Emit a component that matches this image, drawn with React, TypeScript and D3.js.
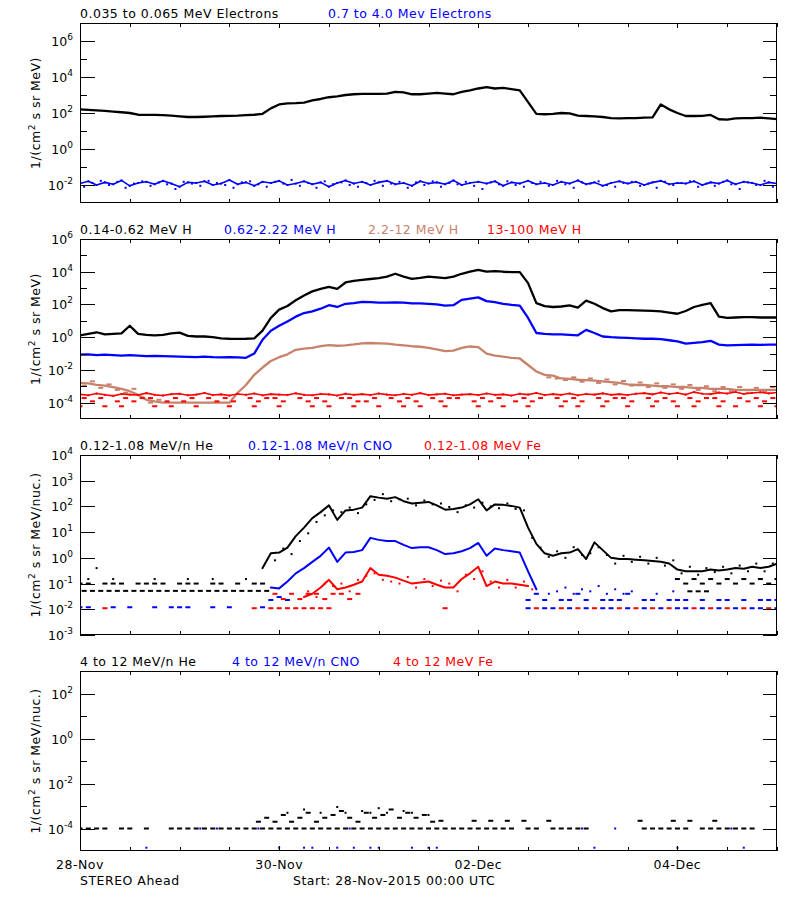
import React from "react";
import * as d3 from "d3";

type Val = number | null;
const _ = null;

// ---------------- time axis ----------------
const sampleStepHours = 2;
const totalHours = 168;
const xTickHours = [0, 12, 24, 36, 48, 60, 72, 84, 96, 108, 120, 132, 144, 156, 168];
const dateLabels = ["28-Nov", "30-Nov", "02-Dec", "04-Dec"];
const dateLabelHours = [0, 48, 96, 144];

// ---------------- panel 1: electrons ----------------
const elecLow: Val[] = [
  160, 150, 140, 130, 120, 110, 100, 80, 78, 78,
  76, 72, 65, 60, 60, 62, 65, 68, 70, 72,
  76, 80, 90, 180, 300, 340, 350, 380, 500, 600,
  750, 850, 1000, 1100, 1150, 1150, 1150, 1200, 1500, 1400,
  1100, 1100, 1200, 1300, 1200, 1100, 1500, 1800, 2300, 2700,
  2300, 2500, 2100, 1800, 400, 90, 85, 90, 100, 95,
  72, 68, 65, 60, 52, 50, 52, 52, 55, 57,
  300, 160, 100, 68, 68, 70, 78, 45, 43, 50,
  52, 52, 55, 50, 46,
];
const elecHigh: Val[] = [
  0.012, 0.016, 0.010, 0.014, 0.011, 0.018, 0.009, 0.013, 0.015, 0.011, 0.017, 0.012, 0.008, 0.014, 0.013, 0.016, 0.010,
  0.012, 0.019, 0.011, 0.014, 0.009, 0.015, 0.013, 0.017, 0.010, 0.012, 0.016, 0.011, 0.014, 0.008, 0.013, 0.018, 0.012,
  0.015, 0.010, 0.014, 0.017, 0.011, 0.013, 0.009, 0.016, 0.012, 0.014, 0.011, 0.018, 0.010, 0.013, 0.015, 0.012, 0.016,
  0.009, 0.014, 0.012, 0.017, 0.011, 0.013, 0.010, 0.015, 0.012, 0.018, 0.011, 0.014, 0.009, 0.013, 0.016, 0.012, 0.015,
  0.010, 0.014, 0.017, 0.011, 0.013, 0.012, 0.016, 0.010, 0.014, 0.012, 0.018, 0.011, 0.015, 0.013, 0.010, 0.014, 0.012,
];
const elecHighB: Val[] = [
  0.008, 0.013, 0.017, 0.010, 0.015, 0.007, 0.012, 0.016, 0.009, 0.014, 0.011, 0.006, 0.015, 0.012, 0.009, 0.017, 0.013,
  0.010, 0.007, 0.014, 0.016, 0.011, 0.008, 0.015, 0.012, 0.019, 0.009, 0.013, 0.007, 0.016, 0.011, 0.014, 0.010, 0.008,
  0.013, 0.017, 0.009, 0.012, 0.015, 0.007, 0.014, 0.010, 0.016, 0.008, 0.013, 0.011, 0.015, 0.009, 0.006, 0.014, 0.011,
  0.016, 0.010, 0.008, 0.013, 0.015, 0.009, 0.017, 0.011, 0.007, 0.014, 0.012, 0.016, 0.010, 0.008, 0.013, 0.015, 0.009,
  0.012, 0.007, 0.015, 0.010, 0.013, 0.016, 0.008, 0.012, 0.009, 0.015, 0.011, 0.006, 0.014, 0.010, 0.017, 0.008, 0.013,
];

// ---------------- panel 2: protons ----------------
const protonLow: Val[] = [
  1.3, 1.6, 2.0, 1.5, 1.6, 1.7, 5.0, 1.6, 1.4, 1.3,
  1.4, 1.7, 1.9, 1.2, 1.1, 1.1, 1.0, 0.85, 0.8, 0.78,
  0.8, 0.85, 2.5, 15, 48, 80, 180, 350, 630, 900,
  1200, 900, 2200, 2800, 3200, 3600, 4100, 5000, 7500, 5000,
  3700, 4200, 5000, 4500, 4100, 5000, 7500, 10000, 13000, 10000,
  11000, 10000, 9500, 9500, 2000, 120, 80, 70, 75, 87,
  65, 170, 110, 60, 38, 45, 45, 44, 42, 40,
  38, 32, 27, 40, 70, 95, 120, 18, 15, 16,
  17, 17, 16, 16, 16,
];
const protonMid: Val[] = [
  0.085, 0.09, 0.08, 0.085, 0.08, 0.075, 0.08, 0.075, 0.07, 0.072,
  0.07, 0.068, 0.065, 0.062, 0.06, 0.065, 0.06, 0.058, 0.06, 0.058,
  0.055, 0.1, 0.7, 2.5, 5, 9, 18, 30, 38, 55,
  90, 70, 110, 120, 145, 140, 130, 130, 135, 130,
  115, 115, 110, 100, 85, 90, 190, 230, 270, 160,
  140, 110, 95, 85, 15, 1.8, 1.6, 1.5, 1.5, 1.4,
  1.3, 2.8, 1.8, 1.1, 1.0, 0.95, 0.9, 0.85, 0.8, 0.8,
  0.75, 0.65, 0.55, 0.4, 0.45, 0.5, 0.6, 0.35, 0.32, 0.33,
  0.34, 0.35, 0.34, 0.35, 0.35,
];
const protonHigh: Val[] = [
  0.0016, 0.0015, 0.0012, 0.0011, 0.0009, 0.0007, 0.0005, 0.0003, 0.00015, 0.00012,
  0.0001, 0.0001, 0.0001, 0.0001, 0.0001, 0.0001, 0.0001, 0.0001, 0.0001, 0.0004,
  0.0012, 0.005, 0.014, 0.035, 0.06, 0.09, 0.17, 0.2, 0.22, 0.28,
  0.33, 0.3, 0.32, 0.36, 0.42, 0.44, 0.42, 0.4, 0.35, 0.32,
  0.28, 0.26, 0.22, 0.18, 0.14, 0.15, 0.22, 0.27, 0.25, 0.1,
  0.075, 0.065, 0.055, 0.05, 0.02, 0.008, 0.005, 0.0045, 0.003, 0.0028,
  0.0025, 0.0024, 0.0022, 0.002, 0.0018, 0.0016, 0.0013, 0.0012, 0.0012, 0.0011,
  0.001, 0.001, 0.0009, 0.0009, 0.0008, 0.0008, 0.0007, 0.0007, 0.0007, 0.0006,
  0.0006, 0.0006, 0.0006, 0.0006, 0.0006,
];
const protonHighScatter: Val[] = [
  0.0011, 0.002, 0.0008, 0.0013, 0.0006, 0.0004, 0.0007, 0.0002, 0.0001, 0.00015,
  _, _, _, _, _, _, _, _, _, _,
  _, _, _, _, _, _, _, _, _, _,
  _, _, _, _, _, _, _, _, _, _,
  _, _, _, _, _, _, _, _, _, _,
  _, _, _, _, _, _, 0.0035, 0.003, 0.0024, 0.0035,
  0.0019, 0.003, 0.0016, 0.0026, 0.0013, 0.0021, 0.0011, 0.0017, 0.0009, 0.0015,
  0.0008, 0.0013, 0.0007, 0.0012, 0.0006, 0.001, 0.0005, 0.0009, 0.0005, 0.0009,
  0.0004, 0.0008, 0.0005, 0.0009, 0.0004,
];
const protonTop: Val[] = [
  3.2e-4, 2.8e-4, 3.6e-4, 3.0e-4, 2.6e-4, 3.4e-4, 3.1e-4, 2.9e-4, 3.8e-4, 3.0e-4, 2.7e-4, 3.3e-4, 3.5e-4, 2.8e-4, 3.1e-4, 3.9e-4, 2.9e-4,
  3.2e-4, 2.7e-4, 3.4e-4, 3.0e-4, 3.6e-4, 2.8e-4, 3.3e-4, 3.1e-4, 2.9e-4, 3.7e-4, 3.0e-4, 2.8e-4, 3.4e-4, 3.2e-4, 2.7e-4, 3.5e-4, 3.0e-4,
  3.3e-4, 2.9e-4, 3.6e-4, 3.1e-4, 2.8e-4, 3.4e-4, 3.0e-4, 3.8e-4, 2.9e-4, 3.2e-4, 3.5e-4, 2.8e-4, 3.1e-4, 3.3e-4, 2.9e-4, 3.6e-4, 3.0e-4,
  3.2e-4, 2.7e-4, 3.5e-4, 3.1e-4, 3.9e-4, 2.9e-4, 3.3e-4, 3.0e-4, 3.6e-4, 2.8e-4, 3.4e-4, 3.1e-4, 3.7e-4, 3.0e-4, 3.3e-4, 2.9e-4, 3.5e-4,
  3.8e-4, 3.2e-4, 4.2e-4, 3.4e-4, 3.9e-4, 3.1e-4, 4.4e-4, 3.5e-4, 3.3e-4, 4.1e-4, 3.6e-4, 4.5e-4, 3.4e-4, 3.9e-4, 4.3e-4, 3.7e-4, 4.2e-4,
];
const protonTopQ1: Val[] = [
  1.9e-4, 1.2e-4, 1.9e-4, _, 1.2e-4, 1.9e-4, 1.2e-4, 1.9e-4, 1.9e-4, _, 1.2e-4, 1.9e-4, 1.2e-4, 1.9e-4, _, 1.9e-4, 1.2e-4,
  1.9e-4, 1.2e-4, _, 1.9e-4, 1.2e-4, 1.9e-4, 1.9e-4, 1.2e-4, _, 1.9e-4, 1.2e-4, 1.9e-4, 1.2e-4, _, 1.9e-4, 1.9e-4, 1.2e-4,
  1.2e-4, 1.9e-4, _, 1.9e-4, 1.2e-4, 1.9e-4, 1.2e-4, _, 1.9e-4, 1.2e-4, 1.9e-4, 1.9e-4, _, 1.2e-4, 1.9e-4, 1.2e-4, 1.9e-4,
  _, 1.2e-4, 1.9e-4, 1.2e-4, 1.9e-4, _, 1.9e-4, 1.2e-4, 1.9e-4, 1.2e-4, _, 1.9e-4, 1.2e-4, 1.9e-4, 1.9e-4, 1.2e-4, _,
  1.9e-4, 1.2e-4, 1.9e-4, 1.2e-4, _, 1.9e-4, 1.2e-4, 1.9e-4, 1.9e-4, 1.2e-4, _, 1.9e-4, 1.2e-4, 1.9e-4, 1.2e-4, 1.9e-4, 1.2e-4,
];
const protonTopQ2: Val[] = [
  6e-5, _, _, 6e-5, _, 6e-5, _, _, _, 6e-5, _, 6e-5, _, _, 6e-5, _, _,
  _, 6e-5, _, _, 6e-5, _, _, 6e-5, _, _, _, 6e-5, _, 6e-5, _, _, 6e-5,
  _, _, 6e-5, _, _, 6e-5, _, 6e-5, _, _, 6e-5, _, _, _, 6e-5, _, _,
  6e-5, _, _, 6e-5, _, _, _, 6e-5, _, 6e-5, _, _, 6e-5, _, _, 6e-5, _,
  _, 6e-5, _, _, 6e-5, _, 6e-5, _, _, 6e-5, _, 6e-5, _, _, 6e-5, _, 6e-5,
];

// ---------------- panel 3: 0.12-1.08 MeV/n ions ----------------
const heLowMain: Val[] = [
  _, _, _, _, _, _, _, _, _, _, _, _, _, _, _, _, _, _, _, _, _, _, 0.4,
  1.5, 1.6, 2.5, 7, 15, 35, 60, 110, 30, 70,
  75, 90, 250, 220, 200, 230, 160, 130, 140, 150,
  110, 75, 80, 90, 120, 190, 70, 120, 115, 105,
  90, 15, 3.5, 1.5, 1.2, 1.5, 1.6, 2.2, 0.9, 4,
  2.0, 1.0, 0.9, 0.9, 0.85, 0.8, 0.75, 0.7, 0.6, 0.35,
  0.3, 0.3, 0.3, 0.35, 0.32, 0.35, 0.4, 0.38, 0.45, 0.4,
  0.45, 0.6,
];
const heLowScatter: Val[] = [
  _, _, _, _, _, _, _, _, _, _, _, _, _, _, _, _, _, _, _, _, _, _, _,
  0.8, 2.3, 1.4, 4.5, 9, 25, 45, 70, 60, 90,
  55, 120, 180, 300, 160, 190, 200, 110, 170, 120,
  130, 95, 60, 110, 90, 140, 100, 85, 130, 80,
  70, 6, 2.5, 1.1, 1.8, 1.0, 2.6, 1.3, 1.5, 2.6,
  1.3, 0.6, 1.2, 0.7, 1.1, 0.6, 1.0, 0.5, 0.8, 0.25,
  0.45, 0.22, 0.4, 0.28, 0.45, 0.25, 0.5, 0.3, 0.6, 0.3,
  0.6, 0.45,
];
const heLowQ1: Val[] = [
  0.1, 0.1, _, 0.1, 0.1, 0.1, _, 0.1, 0.1, 0.1, 0.1, _, 0.1, 0.1, 0.1, _, 0.1, 0.1, _, 0.1, _, 0.1, 0.1,
  _, _, _, _, _, _, _, _, _, _, _, _, _, _, _, _, _, _, _, _, _, _, _, _, _,
  _, _, _, _, _, _, _, _, _, _, _, _, _, _, _, _, _, _, _, _, _, _, _, _,
  0.15, 0.1, 0.15, 0.1, 0.15, 0.1, 0.15, 0.1, 0.15, 0.1, 0.15, 0.1, 0.15,
];
const heLowQ2: Val[] = [
  0.052, 0.052, 0.052, 0.052, 0.052, 0.052, 0.052, 0.052, 0.052, 0.052, 0.052, 0.052,
  0.052, 0.052, 0.052, 0.052, 0.052, 0.052, 0.052, 0.052, 0.052, 0.052, 0.052,
  _, _, _, _, _, _, _, _, _, _, _, _, _, _, _, _, _, _, _, _, _, _, _, _, _,
  _, _, _, _, _, _, _, _, _, _, _, _, _, _, _, _, _, _, _, _, _, _, _, _,
  _, 0.05, 0.05, 0.05, _, _, _, _, _, _, _, _, _,
];
const heLowQ3: Val[] = [
  _, 0.15, 0.4, _, 0.15, _, _, _, _, 0.15, _, _, _, 0.15, _, _, 0.15, _, _, _, 0.15, _, _,
];
const cnoLowMain: Val[] = [
  _, _, _, _, _, _, _, _, _, _, _, _, _, _, _, _, _, _, _, _, _, _, _,
  0.07, 0.065, 0.12, 0.25, 0.4, 0.7, 1.2, 2.5, 0.7, 1.6,
  1.7, 2.0, 6, 5, 4.5, 4.5, 3.2, 2.4, 2.6, 2.6,
  2.0, 1.4, 1.5, 1.8, 2.4, 3.8, 1.2, 2.3, 2.0, 1.8,
  1.6, 0.3, 0.06,
];
const cnoLowQ1: Val[] = [
  _, _, _, _, _, _, _, _, _, _, _, _, _, _, _, _, _, _, _, _, _, _, _,
  0.023, 0.03, 0.023, _,
  _, _, _, _, _, _, _, _, _, _, _, _, _, _, _, _, _, _, _, _, _, _, _, _, _, _, _,
  0.023, 0.04, 0.023, _, 0.023, 0.023, 0.04, 0.023, _, 0.023, 0.023, 0.023, 0.04, _, 0.023, 0.023,
  _, 0.023, 0.023, 0.023, _, 0.023, _, 0.023, 0.023, _, 0.023, _, 0.023, 0.023, 0.023,
];
const cnoLowQ2: Val[] = [
  0.012, 0.012, _, _, 0.012, _, 0.012, _, _, 0.012, _, 0.012, 0.012, 0.012, _, _, 0.012, _, 0.012, _, _, _, 0.012,
  _, _, _, _, _, _, _, _, _, _, _, _, _, _, _, _, _, _, _, _, _, _, _, _, _, _, _, _, _, _, _,
  0.011, _, 0.011, 0.011, _, 0.011, _, 0.011, _, 0.011, 0.011, _, 0.011, _, 0.011, _,
  0.011, _, 0.011, 0.011, _, 0.011, _, 0.011, _, 0.011, _, 0.011, 0.011, _, 0.011,
];
const cnoLowScatter: Val[] = [
  _, _, _, _, _, _, _, _, _, _, _, _, _, _, _, _, _, _, _, _, _, _, _, _, _, _, _, _, _, _,
  _, _, _, _, _, _, _, _, _, _, _, _, _, _, _, _, _, _, _, _, _, _, _, _, _, _,
  0.04, 0.05, 0.07, 0.04, 0.06, 0.05, 0.08, 0.04, 0.06, 0.04, 0.05, _, _, 0.04, _, 0.05,
];
const feLowMain: Val[] = [
  _, _, _, _, _, _, _, _, _, _, _, _, _, _, _, _, _, _, _, _, _, _, _, _, _, _, _,
  0.03, 0.04, 0.07, 0.14, 0.06, 0.07, 0.09, 0.12, 0.4, 0.22,
  0.2, 0.17, 0.13, 0.1, 0.11, 0.12, 0.09, 0.07, 0.07, 0.15,
  0.25, 0.45, 0.08, 0.12, 0.1, 0.1, 0.09, 0.08,
];
const feLowScatter: Val[] = [
  _, _, _, _, _, _, _, _, _, _, _, _, _, _, _, _, _, _, _, _, _, _, _, _, _, _, _,
  0.05, 0.03, 0.1, 0.08, 0.1, 0.05, 0.14, 0.2, 0.25, 0.14,
  0.12, 0.1, 0.18, 0.07, 0.15, 0.08, 0.13, 0.1, 0.05, 0.22,
  0.15, 0.3, 0.12, 0.07, 0.14, 0.07, 0.12, 0.06,
];
const feLowQ1: Val[] = [
  _, _, _, 0.011, _, _, _, _, _, _, _, _, _, _, _, _, _, _, _, _, _, 0.011, _,
  0.011, 0.011, 0.011, 0.011, 0.011, 0.011, 0.011, 0.011, _,
  _, _, _, _, _, _, _, _, _, _, _, _, 0.011, _, _, _, _, _, _, _, _, _,
  _, 0.011, _, _, 0.011, _, 0.011, _, 0.011, _, _, 0.011, _, 0.011, _, 0.011,
  _, 0.011, _, _, 0.011, _, 0.011, _, 0.011, _, 0.011, _, _, 0.011, _,
];
const feLowQ2: Val[] = [
  _, _, _, _, _, _, _, _, _, _, _, _, _, _, _, _, _, _, _, _, _, _, _,
  0.04, 0.025, 0.04, 0.025, 0.04, 0.04, 0.025, 0.04, 0.04, 0.025, 0.04,
];

// ---------------- panel 4: 4-12 MeV/n ions ----------------
const heHigh: Val[] = [
  1e-4, 1e-4, 1e-4, 1e-4, _, 1e-4, 1e-4, _, 1e-4, _, _, 1e-4, 1e-4,
  1e-4, 1e-4, 1e-4, 1e-4, 1e-4, 1e-4,
  1e-4, 1e-4, 1e-4, 1e-4, 1e-4, 1e-4, 1e-4, 1e-4, 1e-4, 1e-4,
  1e-4, 1e-4, 1e-4, 1e-4, 1e-4, 1e-4, 1e-4, 1e-4, 1e-4, 1e-4,
  1e-4, 1e-4, 1e-4, 1e-4, 1e-4, 1e-4, 1e-4, 1e-4, 1e-4, 1e-4,
  1e-4, 1e-4, 1e-4, 1e-4, _, 1e-4, 1e-4, _, 1e-4, 1e-4, 1e-4, 1e-4, 1e-4,
  _, _, _, _, _, _, 1e-4, 1e-4, 1e-4, 1e-4, 1e-4, 1e-4, _,
  1e-4, 1e-4, 1e-4, 1e-4, 1e-4, 1e-4, 1e-4, _, _, _,
];
const heHighUpper: Val[] = [
  _, _, _, _, _, _, _, _, _, _, _, _, _, _, _, _, _, _, _, _, _,
  2e-4, 3e-4, 2e-4, 4e-4, 2e-4, 3e-4, 5e-4, 2e-4, 3e-4, 4e-4, 6e-4,
  3e-4, 2e-4, 5e-4, 3e-4, 4e-4, 7e-4, 3e-4, 5e-4, 3e-4, 4e-4, 2e-4,
  2.2e-4, _, _, _, 2.2e-4, _, 2.2e-4, _, 2.2e-4, _, 2.2e-4, _, _, 2.2e-4,
  _, _, _, _, _, _, _, _, _, _, 2.2e-4, _, _, _, 2.2e-4, _, 2.2e-4, _, _, 2.2e-4,
];
const heHighTop: Val[] = [
  _, _, _, _, _, _, _, _, _, _, _, _, _, _, _, _, _, _, _, _, _, _, _,
  _, _, 5e-4, _, 7e-4, _, 5e-4, _, 9e-4, 5e-4, _, 6e-4, 5e-4, 8e-4, 5e-4, _, 6e-4, 5e-4, _, 4e-4,
];
const cnoHighLow: Val[] = [
  _, _, _, _, _, _, _, _, 1.4e-5, _, _, _, _, _, _, _, _, _, _, _, _, _, _, _, 1.4e-5, _, _,
  1.4e-5, 1.4e-5, _, _, 1.4e-5, _, 1.4e-5, _, 1.4e-5, 1.4e-5, _, _, _, 1.4e-5, _, 1.4e-5, 1.4e-5,
  _, _, _, _, _, _, _, _, _, _, _, _, _, _, _, _, _, _, 1.4e-5, _, _, _, _, _, _, _, _, _,
  1.4e-5, _, _, _, _, _, _, _, 1.4e-5, _, _, _, _,
];
const cnoHighMid: Val[] = [
  _, _, _, _, _, _, _, _, _, _, _, _, _, _, 1e-4, _, 1e-4, _, _, _, _, 1e-4, _, _, _, _, _, _, _, _, _, _,
  1e-4, _, _, _, _, _, _, _, _, _, _, _, _, _, _, _, _, _, _, _, _, _, _, _, _, _, _, _,
  1e-4, _, _, _, 1e-4, _, _, _, _, _, _, _, _, _, _, _, _, _, 1e-4,
];

// ---------------- styles / layout ----------------
const BLACK = "#000000";
const BLUE = "#0000ff";
const BROWN = "#c8826b";
const RED = "#ff0000";
const FONT = "'DejaVu Sans', Verdana, sans-serif";
const X0 = 80;
const X1 = 777;
const PANEL_H = 180;

const xScale = d3.scaleLinear().domain([0, totalHours]).range([X0, X1]);

type Kind = "line" | "jag" | "dash" | "dot";
type SeriesDef = { values: Val[]; color: string; kind: Kind; offset?: number; width?: number };
type TitleDef = { text: string; color: string; x: number };
type PanelDef = {
  top: number;
  domain: [number, number];
  major: number[];
  minor: number[];
  unit: string;
  titles: TitleDef[];
  series: SeriesDef[];
};

const panels: PanelDef[] = [
  {
    top: 23,
    domain: [1e-3, 1e7],
    major: [6, 4, 2, 0, -2],
    minor: [5, 3, 1, -1],
    unit: "MeV)",
    titles: [
      { text: "0.035 to 0.065 MeV Electrons", color: BLACK, x: 80 },
      { text: "0.7 to 4.0 Mev Electrons", color: BLUE, x: 328 },
    ],
    series: [
      { values: elecHigh, color: BLUE, kind: "jag" },
      { values: elecHighB, color: BLUE, kind: "dot", offset: 1 },
      { values: elecLow, color: BLACK, kind: "line" },
    ],
  },
  {
    top: 239,
    domain: [1e-5, 1e6],
    major: [6, 4, 2, 0, -2, -4],
    minor: [5, 3, 1, -1, -3],
    unit: "MeV)",
    titles: [
      { text: "0.14-0.62 MeV H", color: BLACK, x: 80 },
      { text: "0.62-2.22 MeV H", color: BLUE, x: 224 },
      { text: "2.2-12 MeV H", color: BROWN, x: 368 },
      { text: "13-100 MeV H", color: RED, x: 487 },
    ],
    series: [
      { values: protonLow, color: BLACK, kind: "line" },
      { values: protonMid, color: BLUE, kind: "line" },
      { values: protonHighScatter, color: BROWN, kind: "dash", offset: 1 },
      { values: protonHigh, color: BROWN, kind: "line" },
      { values: protonTop, color: RED, kind: "jag" },
      { values: protonTopQ1, color: RED, kind: "dash", offset: 1 },
      { values: protonTopQ2, color: RED, kind: "dash" },
    ],
  },
  {
    top: 455,
    domain: [1e-3, 1e4],
    major: [4, 3, 2, 1, 0, -1, -2, -3],
    minor: [],
    unit: "MeV/nuc.)",
    titles: [
      { text: "0.12-1.08 MeV/n He", color: BLACK, x: 80 },
      { text: "0.12-1.08 MeV/n CNO", color: BLUE, x: 248 },
      { text: "0.12-1.08 MeV Fe", color: RED, x: 424 },
    ],
    series: [
      { values: heLowQ1, color: BLACK, kind: "dash" },
      { values: heLowQ2, color: BLACK, kind: "dash", offset: 1 },
      { values: heLowQ3, color: BLACK, kind: "dot" },
      { values: heLowScatter, color: BLACK, kind: "dot", offset: 1 },
      { values: heLowMain, color: BLACK, kind: "line", width: 2 },
      { values: cnoLowQ1, color: BLUE, kind: "dash" },
      { values: cnoLowQ2, color: BLUE, kind: "dash" },
      { values: cnoLowScatter, color: BLUE, kind: "dot", offset: 1 },
      { values: cnoLowMain, color: BLUE, kind: "line", width: 2 },
      { values: feLowQ1, color: RED, kind: "dash" },
      { values: feLowQ2, color: RED, kind: "dash", offset: 1 },
      { values: feLowScatter, color: RED, kind: "dot", offset: 1 },
      { values: feLowMain, color: RED, kind: "line", width: 2 },
    ],
  },
  {
    top: 671,
    domain: [1e-5, 1e3],
    major: [2, 0, -2, -4],
    minor: [1, -1, -3],
    unit: "MeV/nuc.)",
    titles: [
      { text: "4 to 12 MeV/n He", color: BLACK, x: 80 },
      { text: "4 to 12 MeV/n CNO", color: BLUE, x: 232 },
      { text: "4 to 12 MeV Fe", color: RED, x: 393 },
    ],
    series: [
      { values: heHigh, color: BLACK, kind: "dash" },
      { values: heHighUpper, color: BLACK, kind: "dash", offset: 1 },
      { values: heHighTop, color: BLACK, kind: "dot" },
      { values: cnoHighLow, color: BLUE, kind: "dot" },
      { values: cnoHighMid, color: BLUE, kind: "dot", offset: 1 },
    ],
  },
];

function SeriesMarks({ s, y }: { s: SeriesDef; y: d3.ScaleLogarithmic<number, number> }) {
  const off = s.offset ?? 0;
  const pts = s.values.map((v, i) => ({ t: i * sampleStepHours + off, v }));
  const present = pts.filter((p) => p.v != null) as { t: number; v: number }[];
  if (s.kind === "line" || s.kind === "jag") {
    const line = d3
      .line<{ t: number; v: Val }>()
      .defined((p) => p.v != null)
      .x((p) => xScale(p.t))
      .y((p) => y(p.v as number));
    return (
      <g>
        <path
          d={line(pts) ?? ""}
          fill="none"
          stroke={s.color}
          strokeWidth={s.width ?? (s.kind === "line" ? 2.3 : 1.6)}
          strokeLinejoin="round"
          strokeLinecap="round"
        />
        {s.kind === "jag" &&
          present.map((p, i) => (
            <rect key={i} x={xScale(p.t) - 1} y={y(p.v) - 1} width={2} height={2} fill={s.color} />
          ))}
      </g>
    );
  }
  const w = s.kind === "dash" ? 5 : 2;
  return (
    <g>
      {present.map((p, i) => (
        <rect key={i} x={xScale(p.t) - w / 2} y={y(p.v) - 1} width={w} height={2} fill={s.color} />
      ))}
    </g>
  );
}

function Panel({ p, idx, last }: { p: PanelDef; idx: number; last: boolean }) {
  const top = p.top;
  const bottom = top + PANEL_H;
  const y = d3.scaleLog().domain(p.domain).range([bottom, top]);
  const clipId = `clip-panel-${idx}`;
  const mid = (top + bottom) / 2;
  return (
    <g>
      <defs>
        <clipPath id={clipId}>
          <rect x={X0} y={top} width={X1 - X0} height={PANEL_H} />
        </clipPath>
      </defs>
      <g clipPath={`url(#${clipId})`}>
        {p.series.map((s, k) => (
          <SeriesMarks key={k} s={s} y={y} />
        ))}
      </g>
      <rect x={X0 + 0.5} y={top + 0.5} width={X1 - X0 - 1} height={PANEL_H - 1} fill="none" stroke="#000" strokeWidth={1} />
      {p.major.map((e) => {
        const yy = Math.round(y(Math.pow(10, e))) + 0.5;
        return (
          <g key={`M${e}`}>
            <line x1={X0} x2={X0 + 15} y1={yy} y2={yy} stroke="#000" />
            <line x1={X1 - 14} x2={X1} y1={yy} y2={yy} stroke="#000" />
            <text x={73} y={yy + 4.5} textAnchor="end" fontSize={12.5} fontFamily={FONT}>
              10
              <tspan dy={-6} fontSize={9}>
                {String(e)}
              </tspan>
            </text>
          </g>
        );
      })}
      {p.minor.map((e) => {
        const yy = Math.round(y(Math.pow(10, e))) + 0.5;
        return (
          <g key={`m${e}`}>
            <line x1={X0} x2={X0 + 7} y1={yy} y2={yy} stroke="#000" />
            <line x1={X1 - 7} x2={X1} y1={yy} y2={yy} stroke="#000" />
          </g>
        );
      })}
      {xTickHours.map((h) => {
        const xx = Math.round(xScale(h)) + 0.5;
        const len = dateLabelHours.includes(h) ? 5 : 4;
        return (
          <g key={`x${h}`}>
            <line x1={xx} x2={xx} y1={bottom} y2={bottom - len} stroke="#000" />
            <line x1={xx} x2={xx} y1={top} y2={top + len} stroke="#000" />
          </g>
        );
      })}
      {p.titles.map((t, k) => (
        <text key={k} x={t.x} y={top - 5.5} fill={t.color} fontSize={12.5} letterSpacing={0.5} fontFamily={FONT}>
          {t.text}
        </text>
      ))}
      <text
        transform={`translate(40,${mid}) rotate(-90)`}
        textAnchor="middle"
        fontSize={12.5}
        letterSpacing={0.5}
        fontFamily={FONT}
      >
        1/(cm
        <tspan dy={-5} fontSize={9}>
          2
        </tspan>
        <tspan dy={5}>{" s sr " + p.unit}</tspan>
      </text>
      {last &&
        dateLabelHours.map((h, k) => (
          <text key={`d${h}`} x={xScale(h)} y={869} textAnchor="middle" fontSize={12.5} letterSpacing={0.5} fontFamily={FONT}>
            {dateLabels[k]}
          </text>
        ))}
    </g>
  );
}

export default function App() {
  return (
    <svg
      width={800}
      height={900}
      viewBox="0 0 800 900"
      style={{ position: "absolute", left: 0, top: 0, background: "#fff" }}
    >
      <rect x={0} y={0} width={800} height={900} fill="#fff" />
      {panels.map((p, i) => (
        <Panel key={i} p={p} idx={i} last={i === panels.length - 1} />
      ))}
      <text x={80} y={885} fontSize={12.5} letterSpacing={0.5} fontFamily={FONT}>
        STEREO Ahead
      </text>
      <text x={293} y={885} fontSize={12.5} letterSpacing={0.5} fontFamily={FONT}>
        Start: 28-Nov-2015 00:00 UTC
      </text>
    </svg>
  );
}
